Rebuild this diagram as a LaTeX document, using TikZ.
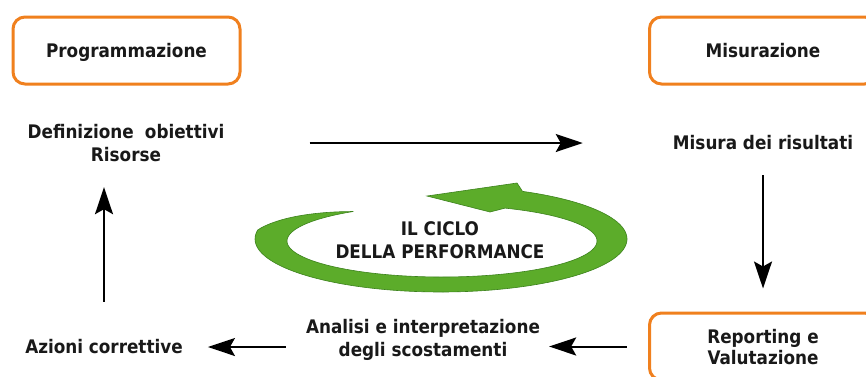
\documentclass[tikz,border=0pt]{standalone}
\usepackage{fontspec}
\setmainfont{DejaVu Sans Condensed}
\usetikzlibrary{arrows.meta}
\definecolor{boxorange}{RGB}{240,128,30}
\definecolor{txt}{RGB}{25,25,25}
\definecolor{leaf}{RGB}{92,172,42}
\definecolor{leafdark}{RGB}{60,130,28}
\tikzset{
  phase/.style={draw=boxorange, line width=3pt, rounded corners=12pt, fill=white,
    minimum width=227pt, minimum height=67pt, align=center, text=txt,
    font=\bfseries\fontsize{18.7}{21}\selectfont, inner sep=0pt, text depth=0pt},
  lbl/.style={align=center, text=txt, font=\bfseries\fontsize{18.7}{23.5}\selectfont, inner sep=0pt},
  arr/.style={line width=2pt, draw=black, -{Stealth[length=27pt,width=18pt,inset=5pt]}},
}
\begin{document}
\begin{tikzpicture}[x=1pt,y=1pt]
\useasboundingbox (0,0) rectangle (866,-376);
\fill[white] (0,0) rectangle (866,-376);
% green cycle arrow
\fill[leaf, draw=leafdark, line width=0.6pt]
  plot[domain=125:424, samples=120, variable=\t]
    ({442+155*cos(\t) + min(1,(\t-125)/45)*(-1+31*cos(\t))},
     {-241+36*sin(\t) + min(1,(\t-125)/45)*(2+17*sin(\t))})
  -- (517,-183) -- (427,-196) -- (490,-212)
  -- plot[domain=426:125, samples=120, variable=\t]
    ({442+155*cos(\t)}, {-241+36*sin(\t)}) -- cycle;
\node[lbl] (ciclo) at (440,-240) {IL CICLO\\DELLA PERFORMANCE};
% phase boxes
\node[phase] (prog) at (126.5,-50.5) {Programmazione};
\node[phase] (misz) at (763,-50.5) {Misurazione};
\node[phase] (rep) at (763,-346.5) {Reporting e\\Valutazione};
% labels
\node[lbl] (def) at (126,-143) {Definizione\hspace{0.6em}obiettivi\\Risorse};
\node[lbl] (mis) at (763,-143) {Misura dei risultati};
\node[lbl] (ana) at (423,-340) {Analisi e interpretazione\\degli scostamenti};
\node[lbl] (azi) at (104,-347) {Azioni correttive};
% connectors
\draw[arr, shorten <=85pt, shorten >=90pt] (def) -- (mis);
\draw[arr, shorten <=25pt, shorten >=23pt] (mis) -- (rep);
\draw[arr, shorten <=21.5pt, shorten >=9pt] (rep.west) -- (ana.east |- rep.west);
\draw[arr, shorten <=20pt, shorten >=25pt] (ana.west |- azi.east) -- (azi.east);
\draw[arr, shorten <=38pt, shorten >=25pt] (azi.north) -- (azi.north |- def.south);
\end{tikzpicture}
\end{document}
